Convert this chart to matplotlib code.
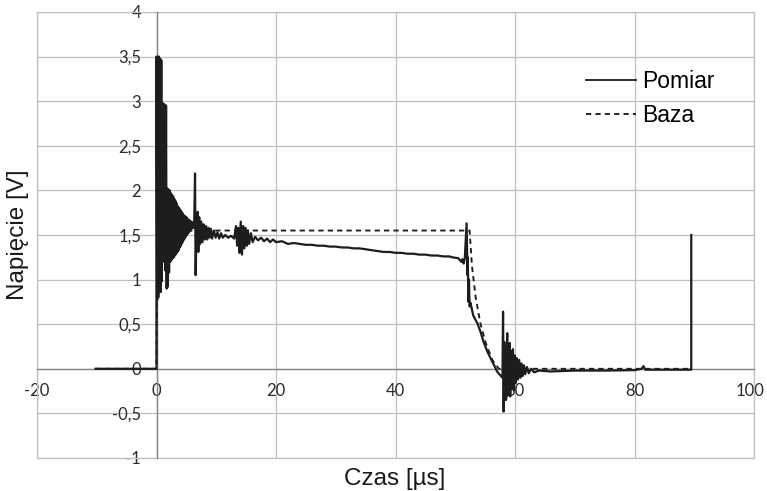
import numpy as np
import matplotlib
matplotlib.use("Agg")
import matplotlib.pyplot as plt
from matplotlib.patches import Rectangle
from matplotlib.lines import Line2D
from matplotlib.transforms import ScaledTranslation

pre_t = [-10.2, -5.0, 0.0]
pre_u = [0.0, 0.0, 0.0]

burst_t = [0.0, 0.0, 0.1, 0.2, 0.3, 0.4, 0.5, 0.6, 0.7, 0.8, 0.9,
           1.0, 1.1, 1.2, 1.3, 1.4, 1.5, 1.6, 1.7, 1.8, 1.9,
           2.0, 2.1, 2.2, 2.3, 2.4, 2.5, 2.6, 2.7, 2.8, 2.9,
           3.0, 3.1, 3.2, 3.3, 3.4, 3.5, 3.6, 3.7, 3.8, 3.9,
           4.0, 4.1, 4.2, 4.3, 4.4, 4.5, 4.6, 4.7, 4.8, 4.9,
           5.0, 5.1, 5.2, 5.3, 5.4, 5.5, 5.6, 5.7, 5.8, 5.9, 6.0, 6.2]
burst_u = [0.0, 3.50, 0.77, 3.50, 0.80, 3.50, 0.88, 3.48, 0.86, 3.46, 0.98,
           2.98, 1.20, 2.97, 1.22, 2.96, 1.10, 2.95, 0.90, 2.02, 0.92,
           2.01, 1.08, 2.00, 1.20, 1.97, 1.22, 1.95, 1.24, 1.93, 1.25,
           1.90, 1.27, 1.88, 1.29, 1.85, 1.31, 1.82, 1.33, 1.80, 1.36,
           1.78, 1.38, 1.76, 1.41, 1.74, 1.44, 1.72, 1.46, 1.71, 1.48,
           1.70, 1.50, 1.68, 1.52, 1.67, 1.54, 1.66, 1.55, 1.65, 1.57, 1.64, 1.58]

ring_t = [6.3, 6.45, 6.55, 6.7, 6.9, 7.0, 7.15, 7.3, 7.5, 7.7, 7.9, 8.1, 8.3,
          8.5, 8.7, 8.9, 9.1, 9.3, 9.6, 9.9, 10.2, 10.5, 10.8, 11.1, 11.5,
          12.0, 12.5, 13.0, 13.3, 13.5, 13.7, 13.9, 14.1, 14.3, 14.5, 14.7,
          14.9, 15.1, 15.3, 15.5, 15.8, 16.1, 16.5, 17.0, 17.5, 18.0, 18.5,
          19.0, 19.5, 20.0, 21.0, 22.0, 23.0]
ring_u = [1.60, 2.19, 1.05, 1.60, 1.76, 1.31, 1.70, 1.40, 1.65, 1.42, 1.62, 1.45, 1.60,
          1.45, 1.58, 1.47, 1.57, 1.46, 1.55, 1.47, 1.53, 1.46, 1.52, 1.47, 1.50,
          1.47, 1.49, 1.46, 1.60, 1.38, 1.58, 1.30, 1.65, 1.28, 1.60, 1.35,
          1.58, 1.38, 1.55, 1.40, 1.52, 1.42, 1.48, 1.44, 1.47, 1.43, 1.46,
          1.42, 1.45, 1.42, 1.43, 1.40, 1.41]

slope_t = [24, 25, 26, 27, 28, 29, 30, 31, 32, 33, 34, 35, 36, 37, 38, 39, 40,
           41, 42, 43, 44, 45, 46, 47, 48, 49, 49.5, 50.5, 51.0, 51.2, 51.4, 51.6]
slope_u = [1.40, 1.39, 1.39, 1.38, 1.38, 1.37, 1.37, 1.36, 1.36, 1.35, 1.35, 1.34, 1.33, 1.32, 1.31, 1.31, 1.30,
           1.30, 1.29, 1.29, 1.28, 1.28, 1.27, 1.27, 1.26, 1.26, 1.25, 1.24, 1.20, 1.23, 1.18, 1.24]

fall_t = [51.9, 52.05, 52.1, 52.2, 52.3, 52.4, 52.55, 53.0, 53.7, 54.2, 54.8,
          55.4, 55.9, 56.5, 57.0, 57.5, 57.9]
fall_u = [1.63, 1.05, 1.25, 0.75, 1.00, 0.70, 0.74, 0.60, 0.51, 0.42, 0.29,
          0.19, 0.12, 0.04, -0.03, -0.07, -0.10]

osc_t = [58.0, 58.1, 58.2, 58.3, 58.4, 58.5, 58.6, 58.7, 58.8, 58.9, 59.0,
         59.1, 59.2, 59.35, 59.5, 59.65, 59.8, 59.95, 60.1, 60.3, 60.5, 60.7,
         60.9, 61.1, 61.3, 61.5, 61.7, 62.0, 62.3, 62.7, 63.2, 64.0]
osc_u = [0.64, -0.48, 0.30, -0.20, 0.20, -0.35, 0.15, 0.40, -0.30, 0.10, -0.25,
         0.29, -0.31, 0.20, -0.22, 0.22, -0.24, 0.15, -0.16, 0.12, -0.12, 0.10,
         -0.10, 0.06, -0.08, 0.04, -0.06, 0.02, -0.05, 0.00, -0.04, -0.02]

tail_t = [66, 70, 75, 80, 81.2, 81.5, 81.8, 85, 89.5, 89.5]
tail_u = [-0.03, -0.02, -0.02, -0.015, 0.0, 0.03, -0.01, -0.01, -0.01, 1.50]

# Baza (reference)
baza_t = [-10.2, 0.0, 0.05, 0.5, 1.5, 3.0, 5.0, 52.4, 52.8, 53.4, 54.2, 55.1, 56.2, 57.3, 62.0, 89.5]
baza_u = [0.0, 0.0, 1.0, 1.3, 1.45, 1.52, 1.55, 1.55, 1.15, 0.81, 0.51, 0.29, 0.10, 0.0, 0.0, 0.0]

x_ticks = [-20, 0, 20, 40, 60, 80, 100]
x_labels = ['-20', '0', '20', '40', '60', '80', '100']
y_ticks = [-1, -0.5, 0, 0.5, 1, 1.5, 2, 2.5, 3, 3.5, 4]
y_labels = ['-1', '-0,5', '0', '0,5', '1', '1,5', '2', '2,5', '3', '3,5', '4']

pomiar_t = np.concatenate([pre_t, burst_t, ring_t, slope_t, fall_t, osc_t, tail_t])
pomiar_u = np.concatenate([pre_u, burst_u, ring_u, slope_u, fall_u, osc_u, tail_u])

line_col = '#1e1c1c'
grid_col = '#bfbfbf'
axis_col = '#868686'
dash = (2.8, 2.2)

fig = plt.figure(figsize=(7.67, 4.91), dpi=100)
ax = fig.add_axes([37 / 767, 1 - 458 / 491, 717 / 767, 446 / 491])
ax.set_xlim(-20, 100)
ax.set_ylim(-1, 4)

ax.plot(baza_t, baza_u, color=line_col, lw=1.35, dashes=dash, zorder=3)
ax.plot(pomiar_t, pomiar_u, color=line_col, lw=1.6, zorder=4)

ax.set_xticks(x_ticks)
ax.set_xticklabels(x_labels)
ax.set_yticks(y_ticks)
ax.set_yticklabels(y_labels)
ax.grid(True, color=grid_col, lw=0.9)
ax.set_axisbelow(True)

for side in ['top', 'right']:
    ax.spines[side].set_visible(False)
ax.spines['left'].set_position(('data', 0))
ax.spines['bottom'].set_position(('data', 0))
for side in ['left', 'bottom']:
    ax.spines[side].set_color(axis_col)
    ax.spines[side].set_linewidth(1.0)
ax.add_patch(Rectangle((0, 0), 1, 1, transform=ax.transAxes, fill=False,
                       ec=grid_col, lw=0.9, clip_on=False, zorder=1))

tick_font = ['Lato', 'DejaVu Sans']
ax.tick_params(axis='both', length=0, labelsize=12, labelcolor='#2b2b2b')
ax.tick_params(axis='x', pad=10)
ax.tick_params(axis='y', pad=11)
for lab in ax.get_xticklabels() + ax.get_yticklabels():
    lab.set_family(tick_font)
# last x label sits at the figure edge, nudge it left a little
last = ax.get_xticklabels()[-1]
last.set_transform(last.get_transform() + ScaledTranslation(-3 / 72, 0, fig.dpi_scale_trans))

label_font = ['Liberation Sans', 'DejaVu Sans']
fig.text(395 / 767, 1 - 485 / 491, 'Czas [µs]', ha='center', va='baseline',
         fontsize=17.5, family=label_font, color='#1a1a1a')
fig.text(18 / 767, 1 - 235 / 491, 'Napięcie [V]', ha='center', va='center',
         rotation=90, fontsize=17.5, family=label_font, color='#1a1a1a')

handles = [Line2D([], [], color=line_col, lw=1.3),
           Line2D([], [], color=line_col, lw=1.35, dashes=dash)]
ax.legend(handles, ['Pomiar', 'Baza'], loc='upper left',
          bbox_to_anchor=(0.765, 0.869), frameon=False, handlelength=2.2,
          handletextpad=0.25, labelspacing=0.45, borderpad=0, borderaxespad=0,
          prop={'family': label_font, 'size': 16.5})

fig.savefig('out.png', dpi=100)
